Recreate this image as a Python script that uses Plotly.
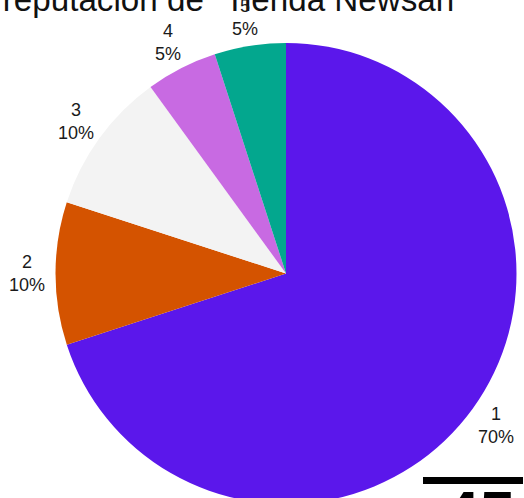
import math
import plotly.graph_objects as go

# Survey answers (rating 1-5) and their share of responses
ratings = ["1", "2", "3", "4", "5"]
shares = [70, 10, 10, 5, 5]
slice_colors = ["#5b17eb", "#d45300", "#f3f3f3", "#c86ae2", "#03a78e"]

title_text = 'reputación de "Tienda Newsan"'
corner_text = "45"

W, H = 524, 510

# Pie placement in pixels (centre and radius), converted to a paper domain
cx, cy, r = 286.0, 273.5, 230.5
label_r = 259.0

fig = go.Figure(
    go.Pie(
        labels=ratings,
        values=shares,
        sort=False,
        direction="clockwise",
        rotation=0,
        marker=dict(colors=slice_colors, line=dict(width=0)),
        textinfo="none",
        domain=dict(
            x=[(cx - r) / W, (cx + r) / W],
            y=[(H - (cy + r)) / H, (H - (cy - r)) / H],
        ),
        showlegend=False,
        hoverinfo="skip",
    )
)

# Slice labels set just outside the rim, at each slice's mid-angle
total = sum(shares)
annotations = []
cum = 0
for lab, val in zip(ratings, shares):
    mid = 2 * math.pi * (cum + val / 2) / total
    cum += val
    px = cx + label_r * math.sin(mid)
    py = cy - label_r * math.cos(mid)
    annotations.append(
        dict(
            text=f"{lab}<br>{round(100 * val / total)}%",
            xref="paper",
            yref="paper",
            x=px / W,
            y=(H - py) / H,
            xanchor="center",
            yanchor="middle",
            showarrow=False,
            font=dict(family="Liberation Sans, Arial", size=18, color="#1a1a1a"),
        )
    )

annotations.append(
    dict(
        text=f"<b>{corner_text}</b>",
        xref="paper",
        yref="paper",
        x=442 / W,
        xanchor="left",
        y=(H - 477) / H,
        yanchor="top",
        showarrow=False,
        font=dict(family="Liberation Sans, Arial", size=64, color="black"),
    )
)

fig.update_layout(
    width=W,
    height=H,
    margin=dict(l=0, r=0, t=0, b=0),
    paper_bgcolor="white",
    plot_bgcolor="white",
    font=dict(family="Liberation Sans, Arial", color="#1a1a1a"),
    title=dict(
        text=title_text,
        font=dict(family="Liberation Sans, Arial", size=33.2, color="#111"),
        xref="container",
        yref="container",
        x=466 / W,
        xanchor="right",
        y=1 - 11 / H,
        yanchor="bottom",
    ),
    shapes=[
        dict(
            type="rect",
            xref="paper",
            yref="paper",
            x0=423 / W,
            x1=523 / W,
            y0=(H - 484) / H,
            y1=(H - 477) / H,
            fillcolor="black",
            line=dict(width=0),
        )
    ],
    annotations=annotations,
)

fig.write_html(
    "out.html",
    post_script="document.documentElement.style.overflow='hidden';document.body.style.overflow='hidden';",
)
